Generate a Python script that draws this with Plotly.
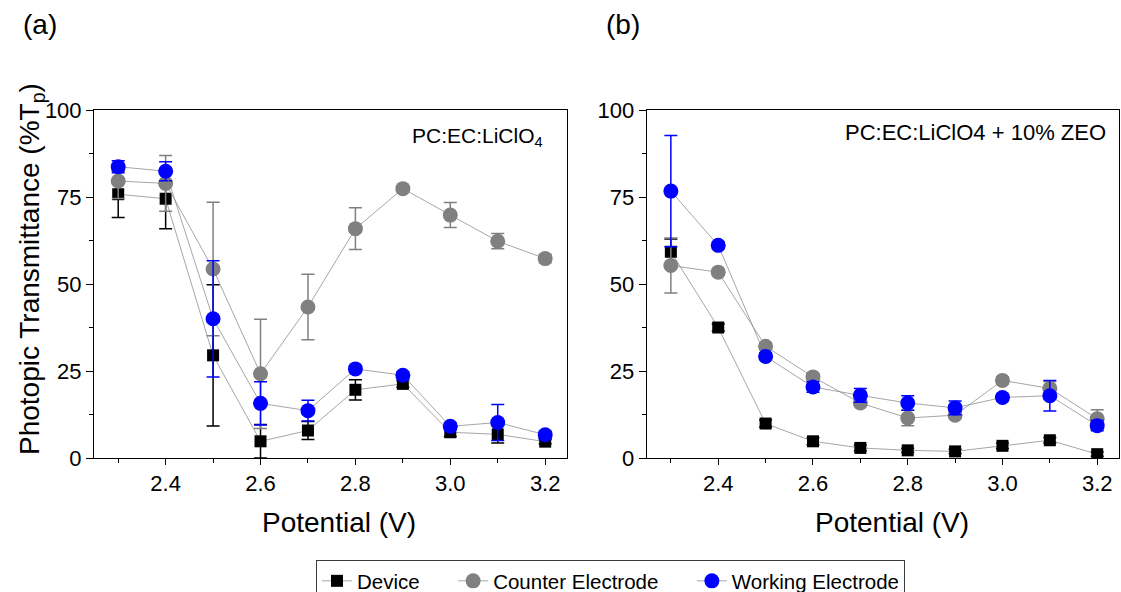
import plotly.graph_objects as go

W, H = 1121, 592

potential = [2.3, 2.4, 2.5, 2.6, 2.7, 2.8, 2.9, 3.0, 3.1, 3.2]

# Panel (a): PC:EC:LiClO4
dev_a = [75.8, 74.5, 29.5, 4.8, 7.9, 19.6, 21.3, 7.4, 6.8, 4.7]
dev_a_err = [6.7, 8.6, 20.3, 4.8, 2.6, 2.9, 1.0, 1.2, 2.5, 0.6]
ce_a = [79.6, 78.9, 54.3, 24.2, 43.4, 65.9, 77.4, 69.8, 62.3, 57.3]
ce_a_err = [5.0, 8.0, 19.2, 15.7, 9.4, 6.0, 0.8, 3.6, 2.2, 1.2]
we_a = [83.7, 82.4, 40.0, 15.7, 13.6, 25.6, 23.8, 9.1, 10.2, 6.7]
we_a_err = [1.7, 2.7, 16.7, 6.2, 3.0, 1.0, 1.0, 1.0, 5.2, 1.0]

# Panel (b): PC:EC:LiClO4 + 10% ZEO
dev_b = [59.3, 37.5, 9.9, 4.8, 2.9, 2.2, 1.9, 3.5, 5.1, 1.1]
dev_b_err = [3.6, 1.0, 1.0, 1.0, 0.8, 0.6, 0.6, 0.8, 0.8, 0.6]
ce_b = [55.3, 53.4, 32.1, 23.3, 15.8, 11.5, 12.3, 22.3, 20.0, 11.3]
ce_b_err = [7.9, 0.8, 1.0, 1.0, 1.0, 2.2, 1.0, 1.0, 2.0, 2.6]
we_b = [76.7, 61.1, 29.2, 20.4, 18.0, 15.8, 14.4, 17.4, 17.9, 9.3]
we_b_err = [16.0, 1.0, 1.0, 1.5, 2.0, 2.1, 2.0, 1.0, 4.4, 1.5]

x_ticks = [2.4, 2.6, 2.8, 3.0, 3.2]
x_ticktext = ["2.4", "2.6", "2.8", "3.0", "3.2"]
y_ticks = [0, 25, 50, 75, 100]

series_names = ["Device", "Counter Electrode", "Working Electrode"]

LINE = "rgb(128,128,128)"
NB = "\u00a0" * 5
series = [
    (series_names[0] + NB, "square", "black", 12),
    (series_names[1] + NB, "circle", "rgb(128,128,128)", 15),
    (series_names[2], "circle", "rgb(0,0,255)", 15),
]

fig = go.Figure()

panels = [
    ("x", "y", [(dev_a, dev_a_err), (ce_a, ce_a_err), (we_a, we_a_err)], True),
    ("x2", "y2", [(dev_b, dev_b_err), (ce_b, ce_b_err), (we_b, we_b_err)], False),
]
for xa, ya, data, showleg in panels:
    for (name, sym, col, size), (vals, errs) in zip(series, data):
        fig.add_trace(go.Scatter(
            x=potential, y=vals, name=name, xaxis=xa, yaxis=ya,
            mode="lines+markers", showlegend=showleg,
            line=dict(color=LINE, width=0.7),
            marker=dict(symbol=sym, color=col, size=size, line=dict(width=0)),
            error_y=dict(type="data", array=errs, visible=True, color=col,
                         thickness=1.5, width=6.5),
        ))

FONT = "Liberation Sans, Arial, sans-serif"

def xaxis(domain, anchor):
    return dict(domain=domain, anchor=anchor, range=[2.249, 3.246],
                tickvals=x_ticks, ticktext=x_ticktext, ticks="outside", ticklen=6,
                tickwidth=1, tickcolor="black",
                minor=dict(tickvals=[2.3, 2.5, 2.7, 2.9, 3.1], ticks="outside",
                           ticklen=4, tickcolor="black", tickwidth=1),
                showline=True, linecolor="black", linewidth=1, mirror=True,
                showgrid=False, zeroline=False,
                tickfont=dict(size=22, color="black", family=FONT))

def yaxis(domain, anchor):
    return dict(domain=domain, anchor=anchor, range=[0, 100],
                tickvals=y_ticks, ticks="outside", ticklen=7, tickwidth=1,
                tickcolor="black",
                minor=dict(dtick=12.5, tick0=0, ticks="outside", ticklen=4,
                           tickcolor="black", tickwidth=1),
                showline=True, linecolor="black", linewidth=1, mirror=True,
                showgrid=False, zeroline=False,
                tickfont=dict(size=22, color="black", family=FONT))

ydom = [134 / H, 482 / H]
fig.update_layout(
    width=W, height=H,
    margin=dict(l=0, r=0, t=0, b=0, autoexpand=False),
    paper_bgcolor="white", plot_bgcolor="white",
    font=dict(family=FONT, color="black"),
    xaxis=xaxis([94 / W, 567 / W], "y"),
    yaxis=yaxis(ydom, "x"),
    xaxis2=xaxis([646.7 / W, 1119 / W], "y2"),
    yaxis2=yaxis(ydom, "x2"),
    legend=dict(orientation="h", x=316 / W, xanchor="left",
                y=(H - 560) / H, yanchor="top",
                bordercolor="rgb(60,60,60)", borderwidth=1,
                font=dict(size=20.5, color="black", family=FONT),
                tracegroupgap=0),
)

def px(x):
    return x / W

def py(y):
    return (H - y) / H

annotations = [
    dict(text="(a)", x=px(40), y=py(25), font=dict(size=28)),
    dict(text="(b)", x=px(623), y=py(25), font=dict(size=28)),
    dict(text="Potential (V)", x=px(339), y=py(522), font=dict(size=28)),
    dict(text="Potential (V)", x=px(892), y=py(522), font=dict(size=28)),
    dict(text="Photopic Transmittance (%T<sub>p</sub>)", x=px(31), y=py(269),
         textangle=-90, font=dict(size=28)),
    dict(text="PC:EC:LiClO<sub>4</sub>", x=px(545), y=py(137), xanchor="right",
         font=dict(size=21)),
    dict(text="PC:EC:LiClO4 + 10% ZEO", x=px(1108), y=py(132), xanchor="right",
         font=dict(size=22)),
]
for a in annotations:
    a.setdefault("xanchor", "center")
    a.update(xref="paper", yref="paper", yanchor="middle", showarrow=False)
    a["font"].update(family=FONT, color="black")
fig.update_layout(annotations=annotations)

fig.write_html("out.html")
